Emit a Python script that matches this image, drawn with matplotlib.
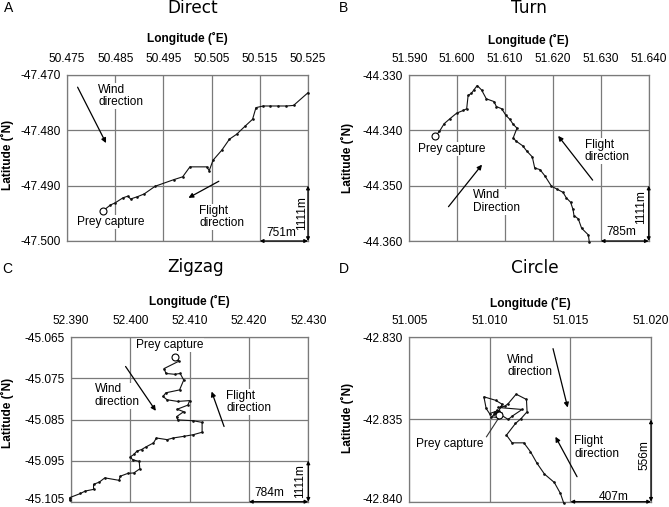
import matplotlib
matplotlib.use('Agg')
import matplotlib.pyplot as plt
from matplotlib.transforms import ScaledTranslation

W, H = 669, 507
plt.rcParams['font.family'] = ['Liberation Sans', 'DejaVu Sans']

# ---------------- data ----------------
# Panel A (Direct)
lonA = [50.4824, 50.4840, 50.4850, 50.4866, 50.4876, 50.4882, 50.4896, 50.4910, 50.4933,
        50.4972, 50.4990, 50.5005, 50.5040, 50.5045, 50.5053, 50.5071, 50.5087, 50.5102,
        50.5120, 50.5135, 50.5142, 50.5157, 50.5172, 50.5188, 50.5205, 50.5220, 50.5250]
latA = [-47.4946, -47.4935, -47.4931, -47.4922, -47.4919, -47.4924, -47.4920, -47.4915, -47.4901,
        -47.4889, -47.4884, -47.4866, -47.4866, -47.4873, -47.4854, -47.4836, -47.4816, -47.4807,
        -47.4792, -47.4780, -47.4759, -47.4756, -47.4756, -47.4756, -47.4756, -47.4755, -47.4732]
xticksA = [50.475, 50.485, 50.495, 50.505, 50.515, 50.525]
yticksA = [-47.470, -47.480, -47.490, -47.500]

# Panel B (Turn)
lonB = [51.5954, 51.5963, 51.5973, 51.5985, 51.5999, 51.6013, 51.6020, 51.6023, 51.6030, 51.6035,
        51.6042, 51.6051, 51.6061, 51.6077, 51.6082, 51.6093, 51.6102, 51.6110, 51.6117, 51.6125,
        51.6117, 51.6124, 51.6137, 51.6146, 51.6157, 51.6162, 51.6173, 51.6183, 51.6197, 51.6208,
        51.6221, 51.6228, 51.6237, 51.6242, 51.6244, 51.6253, 51.6260, 51.6274, 51.6276]
latB = [-44.3411, -44.3402, -44.3388, -44.3379, -44.3369, -44.3364, -44.3361, -44.3337, -44.3333, -44.3327,
        -44.3319, -44.3327, -44.3343, -44.3348, -44.3357, -44.3361, -44.3373, -44.3380, -44.3389, -44.3396,
        -44.3414, -44.3420, -44.3428, -44.3438, -44.3448, -44.3468, -44.3471, -44.3482, -44.3501, -44.3506,
        -44.3512, -44.3522, -44.3530, -44.3543, -44.3554, -44.3560, -44.3577, -44.3589, -44.3602]
xticksB = [51.590, 51.600, 51.610, 51.620, 51.630, 51.640]
yticksB = [-44.330, -44.340, -44.350, -44.360]

# Panel C (Zigzag)
lonC = [52.4075, 52.4082, 52.4057, 52.4060, 52.4075, 52.4084, 52.4090, 52.4083, 52.4060, 52.4055,
        52.4062, 52.4080, 52.4100, 52.4097, 52.4079, 52.4090, 52.4078, 52.4080, 52.4106, 52.4121,
        52.4121, 52.4106, 52.4090, 52.4072, 52.4062, 52.4044, 52.4039, 52.4026, 52.4019, 52.4011,
        52.4006, 52.4000, 52.4004, 52.4015, 52.4016, 52.4006, 52.3996, 52.3983, 52.3981, 52.3957,
        52.3948, 52.3938, 52.3938, 52.3924, 52.3916, 52.3898, 52.3898]
latC = [-45.0699, -45.0708, -45.0726, -45.0738, -45.0740, -45.0738, -45.0754, -45.0778, -45.0785, -45.0794,
        -45.0802, -45.0806, -45.0804, -45.0815, -45.0825, -45.0831, -45.0843, -45.0851, -45.0853, -45.0857,
        -45.0881, -45.0887, -45.0891, -45.0895, -45.0899, -45.0895, -45.0907, -45.0917, -45.0923, -45.0927,
        -45.0935, -45.0941, -45.0948, -45.0952, -45.0970, -45.0980, -45.0981, -45.0988, -45.0998, -45.0992,
        -45.1002, -45.1008, -45.1020, -45.1024, -45.1030, -45.1040, -45.1046]
xticksC = [52.390, 52.400, 52.410, 52.420, 52.430]
yticksC = [-45.065, -45.075, -45.085, -45.095, -45.105]

# Panel D (Circle)
lonD = [51.01459, 51.01438, 51.01400, 51.01339, 51.01293, 51.01252, 51.01211, 51.01138, 51.01103,
        51.01159, 51.01194, 51.01231, 51.01227, 51.01163, 51.01114, 51.01093, 51.01052, 51.01200,
        51.01138, 51.01114, 51.01056, 51.01031, 51.00998, 51.00977, 51.00963, 51.01035, 51.01076,
        51.01056, 51.01010, 51.01052, 51.01066, 51.01045, 51.01025, 51.01056]
latD = [-42.84010, -42.83950, -42.83883, -42.83832, -42.83767, -42.83696, -42.83642, -42.83642, -42.83595,
        -42.83524, -42.83494, -42.83453, -42.83378, -42.83346, -42.83403, -42.83419, -42.83427, -42.83439,
        -42.83480, -42.83500, -42.83464, -42.83453, -42.83464, -42.83433, -42.83362, -42.83383, -42.83407,
        -42.83447, -42.83484, -42.83488, -42.83460, -42.83443, -42.83464, -42.83470]
xticksD = [51.005, 51.010, 51.015, 51.020]
yticksD = [-42.830, -42.835, -42.840]

titles = ['Direct', 'Turn', 'Zigzag', 'Circle']
letters = ['A', 'B', 'C', 'D']
hscale = ['751m', '785m', '784m', '407m']
vscale = ['1111m', '1111m', '1111m', '556m']

# ---------------- layout (pixels) ----------------
fig = plt.figure(figsize=(W / 100, H / 100), dpi=100)

def fx(x):
    return x / W

def fy(y):
    return 1 - y / H

GRID = '#7a7a7a'
FS = 8.6

def make_axes(box, lon, lat, prey, xt, yt, hbar, vbar, hlabel, vlabel, hpos, vpos,
              lift_last=0.0):
    l, r, t, b = box
    ax = fig.add_axes([fx(l), fy(b), (r - l) / W, (b - t) / H])
    ax.set_xlim(xt[0], xt[-1])
    ax.set_ylim(yt[-1], yt[0])
    ax.set_xticks(xt)
    ax.set_xticklabels(['%.3f' % v for v in xt])
    ax.set_yticks(yt)
    ax.set_yticklabels(['%.3f' % v for v in yt])
    ax.xaxis.tick_top()
    ax.tick_params(axis='x', length=0, labelsize=FS, pad=7.5)
    ax.tick_params(axis='y', length=0, labelsize=FS, pad=4.5)
    if lift_last:
        lab = ax.yaxis.get_major_ticks()[-1].label1
        lab.set_transform(lab.get_transform() +
                          ScaledTranslation(0, lift_last / 72, fig.dpi_scale_trans))
    ax.set_axisbelow(True)
    ax.grid(True, color=GRID, lw=0.9)
    for s in ax.spines.values():
        s.set_color(GRID)
        s.set_linewidth(0.9)
    ax.plot(lon, lat, '-', color='#111111', lw=0.8, marker='o', ms=0.9,
            clip_on=False, zorder=3)
    ax.plot([prey[0]], [prey[1]], 'o', mfc='white', mec='black', ms=5, mew=0.8,
            zorder=4, clip_on=False)
    # scale bars
    ap = dict(arrowstyle='<|-|>', color='black', lw=0.9, mutation_scale=5,
              shrinkA=0, shrinkB=0)
    ax.annotate('', xy=(hbar[1], yt[-1]), xytext=(hbar[0], yt[-1]),
                arrowprops=ap, annotation_clip=False)
    ax.annotate('', xy=(xt[-1], vbar[1]), xytext=(xt[-1], vbar[0]),
                arrowprops=ap, annotation_clip=False)
    ax.text(hpos[0], hpos[1], hlabel, fontsize=FS, ha='center', va='center')
    ax.text(vpos[0], vpos[1], vlabel, fontsize=FS, ha='center', va='center',
            rotation=90)
    return ax

def label(ax, x, y, s):
    ax.text(x, y, s, fontsize=FS, ha='left', va='center', linespacing=1.05,
            bbox=dict(facecolor='white', edgecolor='none', pad=0.5), zorder=2.5)

def arrow(ax, start, end):
    ax.annotate('', xy=end, xytext=start,
                arrowprops=dict(arrowstyle='-|>', color='black', lw=0.9,
                                mutation_scale=7, shrinkA=0, shrinkB=0))

# Panel A
axA = make_axes((67, 308, 75, 241), lonA, latA, (lonA[0], latA[0]), xticksA, yticksA,
                (50.515, 50.525), (-47.500, -47.490), hscale[0], vscale[0],
                (50.5194, -47.4986), (50.5237, -47.4949))
label(axA, 50.4815, -47.4738, 'Wind\ndirection')
label(axA, 50.5024, -47.4957, 'Flight\ndirection')
label(axA, 50.4771, -47.4966, 'Prey capture')
arrow(axA, (50.4772, -47.4722), (50.4831, -47.4823))
arrow(axA, (50.5065, -47.4892), (50.5002, -47.4922))

# Panel B
axB = make_axes((409.2, 648.7, 75, 241), lonB, latB, (lonB[0], latB[0]), xticksB, yticksB,
                (51.630, 51.640), (-44.360, -44.350), hscale[1], vscale[1],
                (51.6342, -44.3583), (51.6384, -44.3538))
label(axB, 51.5918, -44.3434, 'Prey capture')
label(axB, 51.6034, -44.3529, 'Wind\nDirection')
label(axB, 51.6266, -44.3437, 'Flight\ndirection')
arrow(axB, (51.5982, -44.3538), (51.6052, -44.3462))
arrow(axB, (51.6283, -44.3490), (51.6211, -44.3410))

# Panel C
axC = make_axes((71, 308.3, 337.3, 501.7), lonC, latC, (lonC[0], latC[0]), xticksC, yticksC,
                (52.420, 52.430), (-45.105, -45.095), hscale[2], vscale[2],
                (52.4234, -45.1029), (52.4286, -45.1001), lift_last=2.2)
label(axC, 52.4010, -45.0669, 'Prey capture')
label(axC, 52.3940, -45.0792, 'Wind\ndirection')
label(axC, 52.4162, -45.0807, 'Flight\ndirection')
arrow(axC, (52.3992, -45.0721), (52.4043, -45.0829))
arrow(axC, (52.4158, -45.0867), (52.4137, -45.0782))

# Panel D
axD = make_axes((409.3, 651, 337.3, 501.7), lonD, latD, (lonD[-1], latD[-1]), xticksD, yticksD,
                (51.015, 51.020), (-42.840, -42.835), hscale[3], vscale[3],
                (51.0177, -42.8397), (51.01957, -42.83716), lift_last=2.2)
label(axD, 51.01107, -42.83174, 'Wind\ndirection')
label(axD, 51.01525, -42.83670, 'Flight\ndirection')
label(axD, 51.00539, -42.83646, 'Prey capture')
arrow(axD, (51.01392, -42.83069), (51.01483, -42.83427))
arrow(axD, (51.01541, -42.83848), (51.01407, -42.83605))
axD.plot([51.00979, 51.01066], [-42.83605, -42.83474], '-', color='#333333', lw=0.8, zorder=3)

# figure texts
title_pos = [(193, 12.7), (529, 13), (196, 272), (535, 273)]
letter_pos = [(4, 12), (339, 12), (2, 273), (339, 273)]
lon_pos = [(187.5, 38), (528, 40), (189, 301), (530, 303)]
lat_pos = [(7, 155), (347, 158), (7, 413), (347, 418)]
for i in range(4):
    fig.text(fx(title_pos[i][0]), fy(title_pos[i][1]), titles[i], fontsize=12.2,
             ha='center', va='baseline', family=['DejaVu Sans'])
    fig.text(fx(letter_pos[i][0]), fy(letter_pos[i][1]), letters[i], fontsize=10,
             ha='left', va='baseline')
    fig.text(fx(lon_pos[i][0]), fy(lon_pos[i][1]), 'Longitude (˚E)', fontsize=FS,
             fontweight='bold', ha='center', va='center')
    fig.text(fx(lat_pos[i][0]), fy(lat_pos[i][1]), 'Latitude (˚N)', fontsize=FS,
             fontweight='bold', ha='center', va='center', rotation=90)

fig.savefig('out.png', dpi=100)
